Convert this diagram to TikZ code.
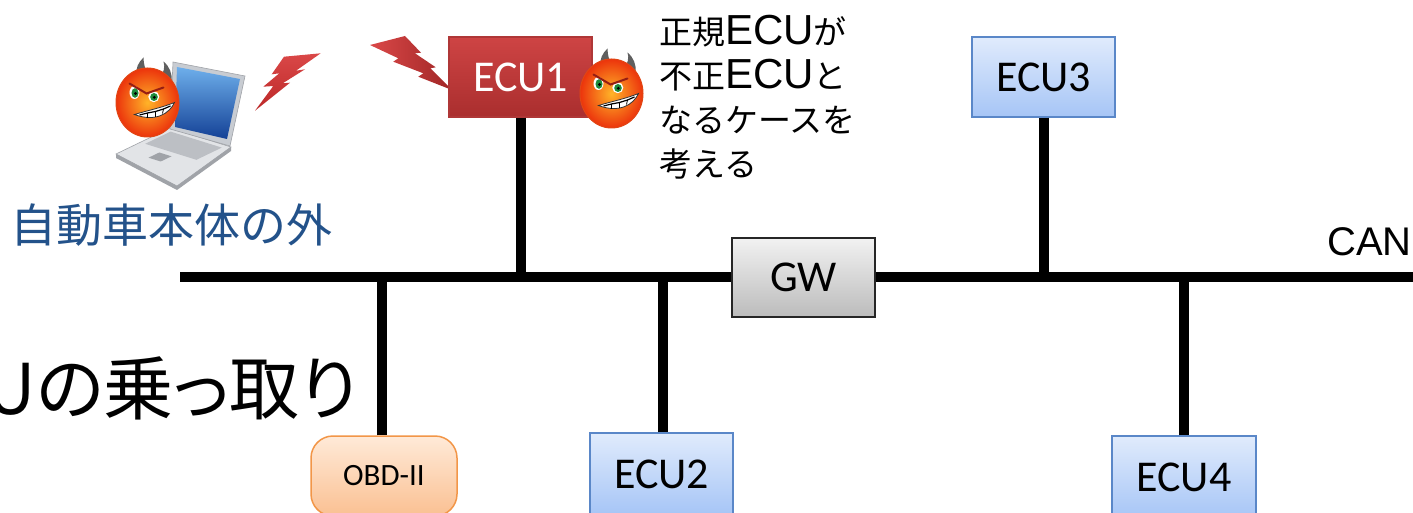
\documentclass[tikz,border=0pt]{standalone}
\usepackage{fontspec}
\newfontfamily\cali{Carlito}
\newfontfamily\jp{Noto Sans CJK JP}
\newfontfamily\jpp{Noto Sans CJK JP}[RawFeature=+palt]
\newfontfamily\arialfont{Liberation Sans}
\newcommand\latinpart[1]{{\arialfont\fontsize{42}{44}\selectfont #1}}

% box colours
\definecolor{redtop}{RGB}{206,68,68}
\definecolor{redbot}{RGB}{170,46,46}
\definecolor{redrim}{RGB}{175,55,55}
\definecolor{bluetop}{RGB}{224,235,252}
\definecolor{bluebot}{RGB}{166,197,246}
\definecolor{bluerim}{RGB}{90,135,200}
\definecolor{graytop}{RGB}{242,242,242}
\definecolor{graybot}{RGB}{188,188,188}
\definecolor{obdtop}{RGB}{255,234,216}
\definecolor{obdbot}{RGB}{250,192,146}
\definecolor{obdrim}{RGB}{242,150,72}
\definecolor{outsideblue}{RGB}{35,82,138}
% devil colours
\definecolor{devilhi}{RGB}{255,180,40}
\definecolor{devilred}{RGB}{236,52,12}
\definecolor{devilrim}{RGB}{225,70,20}
\definecolor{horncol}{RGB}{95,95,95}
\definecolor{eyegreen}{RGB}{30,140,60}
\definecolor{browcol}{RGB}{150,30,20}
% laptop colours
\definecolor{lapframe}{RGB}{200,204,210}
\definecolor{lapbase}{RGB}{226,228,231}
\definecolor{lapedge}{RGB}{160,163,168}
\definecolor{lapkeys}{RGB}{188,191,196}
\definecolor{screentop}{RGB}{110,175,235}
\definecolor{screenbot}{RGB}{20,65,150}
% lightning colours
\definecolor{bolttop}{RGB}{218,72,72}
\definecolor{boltbot}{RGB}{188,40,40}
\definecolor{boltdark}{RGB}{160,38,38}

\tikzset{
  bus/.style={line width=10pt},
  ecubox/.style={draw=bluerim, line width=1.5pt, top color=bluetop, bottom color=bluebot,
    minimum width=143pt, minimum height=80pt, inner sep=0pt,
    font={\cali\fontsize{44}{50}\selectfont}},
  attackbox/.style={ecubox, draw=redrim, top color=redtop, bottom color=redbot, text=white},
  gwbox/.style={ecubox, draw=black!85, line width=2pt, top color=graytop, bottom color=graybot},
  obdbox/.style={draw=obdrim, line width=1.5pt, top color=obdtop, bottom color=obdbot,
    rounded corners=22pt, minimum width=146pt, minimum height=80pt, inner sep=0pt,
    font={\cali\fontsize{31}{36}\selectfont}},
  devil/.pic={
    % horns behind the head
    \fill[horncol] (-11,-27) .. controls (-12,-35) and (-9,-40) .. (-4,-45)
                   .. controls (-4,-38) and (-2,-33) .. (0,-28) -- cycle;
    \fill[horncol] (12,-24) .. controls (16,-30) and (18,-35) .. (16,-41)
                   .. controls (22,-36) and (25,-29) .. (24,-21) -- cycle;
    % head
    \shade[inner color=devilhi, outer color=devilred] (0,0) ellipse [x radius=31.5, y radius=34.5];
    \draw[devilrim, line width=1pt] (0,0) ellipse [x radius=31.5, y radius=34.5];
    % eyes
    \fill[white] (-13,-10) ellipse [x radius=5, y radius=6.5];
    \fill[eyegreen] (-12.5,-9.5) ellipse [x radius=3.5, y radius=4.8];
    \fill[black] (-12,-9) circle [radius=1.6];
    \fill[white] (6.3,-5.8) ellipse [x radius=5.5, y radius=5.5];
    \fill[eyegreen] (6.5,-5.5) ellipse [x radius=3.8, y radius=4];
    \fill[black] (6.8,-5.2) circle [radius=1.6];
    % angry brows
    \draw[browcol, line width=2pt, line cap=round] (-18,-19) -- (-1,-9) -- (16,-15);
    % grin
    \filldraw[fill=white, draw=black!80, line width=0.8pt]
      (-13,12) .. controls (0,8) and (15,5) .. (27,0)
      .. controls (22,11) and (8,20) .. (-13,12) -- cycle;
    \draw[black, line width=1.2pt] (-8,12.5) -- (0,10.5) -- (8,9) -- (16,6.5) -- (23,3.5);
    \draw[black, line width=0.8pt] (0,10.5) -- (0,15.5) (8,9) -- (8,14.5) (16,6.5) -- (15,11);
  }
}

\begin{document}
\begin{tikzpicture}[x=1pt, y=-1pt]
\useasboundingbox (0,0) rectangle (1413,513);
\clip (0,0) rectangle (1413,513);
\fill[white] (0,0) rectangle (1413,513);

% laptop
\fill[lapbase, draw=lapedge, line width=0.6pt] (170,128) -- (231,147) -- (177,186) -- (116,154) -- cycle;
\fill[lapedge] (116,154) -- (177,186) -- (231,147) -- (231,151) -- (177,190) -- (116,158) -- cycle;
\fill[lapkeys] (170.6,131.6) -- (221.8,147.6) -- (196.4,159.8) -- (145.2,143.8) -- cycle;
\fill[lapedge] (159.3,152.5) -- (171.5,156.3) -- (160.7,161.5) -- (148.5,157.7) -- cycle;
\fill[lapframe, draw=lapedge, line width=0.6pt] (173,62) -- (245,76) -- (230,146) -- (170,129) -- cycle;
\shade[top color=screentop, bottom color=screenbot] (177,67) -- (240,79) -- (227,139) -- (175,127) -- cycle;

% attacker outside the car
\pic at (147.5,102.5) {devil};

% lightning bolts
\shade[top color=bolttop, bottom color=boltbot]
  (284,56.7) -- (320.7,53.3) -- (296,70.7) -- (305,69.3) -- (282.7,83.3) -- (290,82.7)
  -- (255,110.7) -- (273.3,86) -- (263.3,86.7) -- (279.3,73.3) -- (271.7,74.3) -- cycle;
\shade[left color=bolttop, right color=boltdark]
  (370,45) -- (405,36) -- (421,52.7) -- (415,53.3) -- (435.7,67.3) -- (430.3,68.3)
  -- (452,90) -- (418.3,76.7) -- (423.3,73.3) -- (393.3,61.7) -- (398.3,58.3) -- cycle;

% ECUs and gateway
\node[attackbox] (ecu1) at (520.5,77) {ECU1};
\node[ecubox] (ecu3) at (1043.5,77) {ECU3};
\node[gwbox, minimum height=79pt] (gw) at (803.5,277) {GW};
\node[ecubox, minimum height=82pt] (ecu2) at (661.5,474) {ECU2};
\node[ecubox, minimum width=144pt, minimum height=83pt] (ecu4) at (1184,477.5) {ECU4};
\node[obdbox] (obd) at (384,476) {OBD-II};

% CAN bus
\coordinate (busL) at (180,277);
\coordinate (busR) at (1413,277);
\draw[bus] (busL) -- (gw.west);
\draw[bus] (gw.east) -- (busR);
\draw[bus] (ecu1.south) -- (ecu1.south |- busL);
\draw[bus] (ecu3.south) -- (ecu3.south |- busL);
\draw[bus] (663,0 |- ecu2.north) -- (663,0 |- busL);
\draw[bus] (ecu4.north) -- (ecu4.north |- busL);
\draw[bus] (381.5,0 |- obd.north) -- (381.5,0 |- busL);

% compromised ECU
\pic at (611.5,93.5) {devil};

% texts
\node[anchor=north west, inner sep=0pt, align=left, font={\jp\fontsize{33}{44}\selectfont}] (note) at (659,15)
  {正規\latinpart{ECU}が\\不正\latinpart{ECU}と\\なるケースを\\考える};
\node[inner sep=0pt, text=outsideblue, font={\jp\fontsize{46}{52}\selectfont}] (outside) at (171,225) {自動車本体の外};
\node[anchor=east, inner sep=0pt, font={\jpp\fontsize{70}{80}\selectfont}] (title) at (358,388) {ECUの乗っ取り};
\node[anchor=base west, inner sep=0pt, font={\arialfont\fontsize{40}{44}\selectfont}] (can) at (1327,255) {CAN};
\end{tikzpicture}
\end{document}
